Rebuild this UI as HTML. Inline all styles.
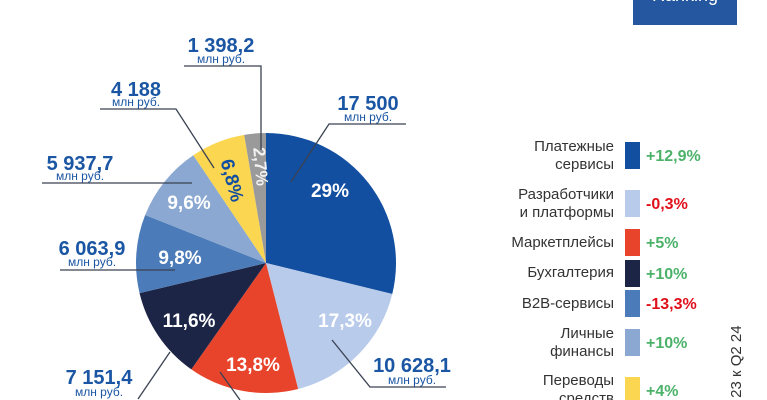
<!DOCTYPE html>
<html><head><meta charset="utf-8"><style>
html,body{margin:0;padding:0;background:#fff;width:767px;height:400px;overflow:hidden}
svg{display:block;font-family:"Liberation Sans",sans-serif}
</style></head><body>
<svg id="s" width="767" height="400" viewBox="0 0 767 400">
<g id="pie"></g>
<g font-weight="bold" fill="#fff" font-size="19" text-anchor="middle">
<text x="330" y="197">29%</text>
<text x="345" y="327">17,3%</text>
<text x="253" y="371">13,8%</text>
<text x="189" y="327">11,6%</text>
<text x="180" y="264">9,8%</text>
<text x="189" y="209">9,6%</text>
<text transform="translate(226,182) rotate(75)" fill="#134fa0">6,8%</text>
<text transform="translate(255,167) rotate(85)" fill="#f2f2f2" font-size="17">2,7%</text>
</g>
<g stroke="#3a4252" stroke-width="1.3" fill="none">
<polyline points="184,66 261,66 261,150"/>
<polyline points="100,109 176,109 214,168"/>
<polyline points="406,124 329,124 291,182"/>
<polyline points="42,183 192,183"/>
<polyline points="60,270 175,270"/>
<polyline points="446,387 370,387 332,340"/>
<polyline points="170,352 138,399"/>
<polyline points="220,372 240,400"/>
</g>
<g fill="#1a56a3" font-weight="bold" font-size="20" text-anchor="middle">
<text x="221" y="52">1 398,2</text>
<text x="136" y="96">4 188</text>
<text x="368" y="110">17 500</text>
<text x="80" y="170">5 937,7</text>
<text x="92" y="255">6 063,9</text>
<text x="412" y="372">10 628,1</text>
<text x="99" y="384">7 151,4</text>
<text x="300" y="415">8 479,8</text>
</g>
<g fill="#1a56a3" font-size="12" text-anchor="middle">
<text x="221" y="63">млн руб.</text>
<text x="136" y="106">млн руб.</text>
<text x="368" y="121">млн руб.</text>
<text x="80" y="180">млн руб.</text>
<text x="92" y="266">млн руб.</text>
<text x="412" y="384">млн руб.</text>
<text x="99" y="396">млн руб.</text>
</g>
<rect x="633" y="0" width="104" height="25" fill="#2457a0"/>
<text x="685" y="1" fill="#fff" font-size="18" text-anchor="middle">Ranking</text>
<g font-size="15" fill="#333" text-anchor="end">
<text x="614" y="151">Платежные</text><text x="614" y="169">сервисы</text>
<text x="614" y="199">Разработчики</text><text x="614" y="217">и платформы</text>
<text x="614" y="247">Маркетплейсы</text>
<text x="614" y="277">Бухгалтерия</text>
<text x="614" y="308">B2B-сервисы</text>
<text x="614" y="338">Личные</text><text x="614" y="356">финансы</text>
<text x="614" y="385">Переводы</text><text x="614" y="403">средств</text>
</g>
<rect x="625" y="142" width="15" height="27" fill="#134fa0"/>
<rect x="625" y="190" width="15" height="27" fill="#b8cbea"/>
<rect x="625" y="229" width="15" height="27" fill="#e8432b"/>
<rect x="625" y="260" width="15" height="27" fill="#1d2547"/>
<rect x="625" y="290" width="15" height="27" fill="#4b7bb8"/>
<rect x="625" y="329" width="15" height="27" fill="#8aa8d1"/>
<rect x="625" y="377" width="15" height="27" fill="#fbd651"/>
<g font-size="16" font-weight="bold">
<text x="646" y="161" fill="#4cb26a">+12,9%</text>
<text x="646" y="209" fill="#e0101a">-0,3%</text>
<text x="646" y="248" fill="#4cb26a">+5%</text>
<text x="646" y="279" fill="#4cb26a">+10%</text>
<text x="646" y="309" fill="#e0101a">-13,3%</text>
<text x="646" y="348" fill="#4cb26a">+10%</text>
<text x="646" y="396" fill="#4cb26a">+4%</text>
</g>
<text transform="translate(741,422) rotate(-90)" font-size="15" fill="#333">Q3 23 к Q2 24</text>
</svg>
<script>
var d=[29,17.3,13.8,11.6,9.8,9.6,6.8,2.7],c=["#134fa0","#b8cbea","#e8432b","#1d2547","#4b7bb8","#8aa8d1","#fbd651","#9a9a9a"];
var t=d.reduce(function(a,b){return a+b}),a=0,cx=266,cy=263,r=130,h="";
for(var i=0;i<d.length;i++){var a2=a+d[i]/t*2*Math.PI;
var x1=cx+r*Math.sin(a),y1=cy-r*Math.cos(a),x2=cx+r*Math.sin(a2),y2=cy-r*Math.cos(a2);
h+='<path d="M'+cx+','+cy+'L'+x1+','+y1+'A'+r+','+r+' 0 '+(a2-a>Math.PI?1:0)+' 1 '+x2+','+y2+'Z" fill="'+c[i]+'"/>';a=a2;}
document.getElementById("pie").innerHTML=h;
</script>
</body></html>
